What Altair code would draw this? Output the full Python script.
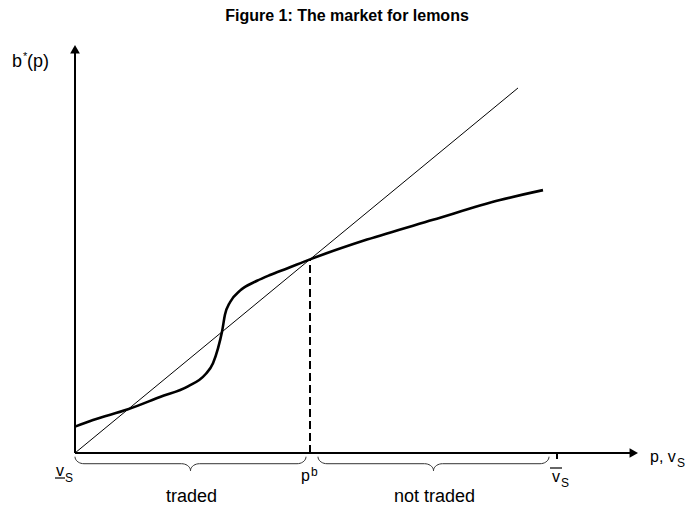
import altair as alt
import numpy as np
import pandas as pd

# ---------------- data ----------------
TITLE = "Figure 1: The market for lemons"

# b*(p) curve: price p and buyers' valuation b*(p)
price = [0.00, 0.18, 0.53, 0.85, 1.13, 1.30, 1.38, 1.43, 1.47, 1.50,
         1.55, 1.65, 1.82, 1.95, 2.12, 2.35, 2.92, 3.58, 4.25, 4.68]
buyer_value = [0.32, 0.40, 0.53, 0.68, 0.81, 0.95, 1.09, 1.27, 1.47, 1.68,
               1.83, 1.97, 2.09, 2.16, 2.24, 2.35, 2.59, 2.83, 3.07, 3.19]

# 45-degree line b = p
diag_p = [0.0, 4.43]
diag_b = [0.0, 4.43]

VS_LOW = 0.0        # lower bound of seller values
P_B = 2.35          # equilibrium price p^b
VS_HIGH = 4.82      # upper bound of seller values
X_AXIS_END = 5.63
Y_AXIS_END = 4.95

brace_start = [0.0, 2.43]
brace_end = [2.31, 4.74]
brace_text = ["traded", "not traded"]

# label texts
Y_LABEL = ["b", "*", "(p)"]
X_LABEL = ["p, v", "S"]
VS_LABEL = ["v", "S"]
PB_LABEL = ["p", "b"]

# ---------------- scales ----------------
XMIN, XMAX = -0.67, 6.10
YMAX = 445 / 82.4
YMIN = YMAX - 498 / 82.4
FONT = "Liberation Sans"

xs = alt.Scale(domain=[XMIN, XMAX], nice=False, zero=False)
ys = alt.Scale(domain=[YMIN, YMAX], nice=False, zero=False)
X = alt.X("x:Q", scale=xs, axis=None)
Y = alt.Y("y:Q", scale=ys, axis=None)


def pt(x, y, **extra):
    d = {"x": [x], "y": [y]}
    d.update({k: [v] for k, v in extra.items()})
    return pd.DataFrame(d)


def label(text, x, y, dx, dy, size, align="left"):
    return alt.Chart(pt(x, y, t=text)).mark_text(
        dx=dx, dy=dy, fontSize=size, align=align, baseline="alphabetic",
        font=FONT, color="black"
    ).encode(x=X, y=Y, text="t:N")


def hline(x, y, xo1, xo2, yo, width=1.2):
    return alt.Chart(pt(x, y, x2=x, y2=y)).mark_rule(
        color="black", strokeWidth=width, xOffset=xo1, x2Offset=xo2,
        yOffset=yo, y2Offset=yo
    ).encode(x=X, y=Y, x2="x2:Q", y2="y2:Q")


# ---------------- layers ----------------
axes_df = pd.DataFrame({
    "x": [0.0, 0.0], "y": [0.0, 0.0],
    "x2": [X_AXIS_END - 0.05, 0.0], "y2": [0.0, Y_AXIS_END - 0.06],
})
axes = alt.Chart(axes_df).mark_rule(color="black", strokeWidth=2).encode(
    x=X, y=Y, x2="x2:Q", y2="y2:Q")

arrow_x = alt.Chart(pt(X_AXIS_END, 0.0)).mark_point(
    shape="triangle-right", filled=True, size=95, color="black", opacity=1,
    xOffset=-4.2).encode(x=X, y=Y)
arrow_y = alt.Chart(pt(0.0, Y_AXIS_END)).mark_point(
    shape="triangle-up", filled=True, size=95, color="black", opacity=1,
    yOffset=4.2).encode(x=X, y=Y)

diag = alt.Chart(pd.DataFrame({"x": diag_p, "y": diag_b})).mark_line(
    color="black", strokeWidth=1).encode(x=X, y=Y)

curve = alt.Chart(pd.DataFrame({"x": price, "y": buyer_value})).mark_line(
    color="black", strokeWidth=2.6, interpolate="monotone").encode(x=X, y=Y)

dashed = alt.Chart(pt(P_B, 0.0, y2=P_B)).mark_rule(
    color="black", strokeWidth=2, strokeDash=[8, 4]).encode(x=X, y=Y, y2="y2:Q")


def brace_points(a, b, y0, y1, y2, r, n=10):
    m = (a + b) / 2
    t = np.linspace(0, np.pi / 2, n)
    xs_, ys_ = [], []
    xs_ += list(a + r * (1 - np.cos(t))); ys_ += list(y0 + (y1 - y0) * np.sin(t))
    xs_ += list(m - r + r * np.sin(t)); ys_ += list(y1 + (y2 - y1) * (1 - np.cos(t)))
    xs_ += list(m + r * (1 - np.cos(t))); ys_ += list(y2 + (y1 - y2) * np.sin(t))
    xs_ += list(b - r + r * np.sin(t)); ys_ += list(y1 + (y0 - y1) * (1 - np.cos(t)))
    return xs_, ys_


rows = []
for i, (a, b) in enumerate(zip(brace_start, brace_end)):
    bx, by = brace_points(a, b, -0.045, -0.13, -0.215, 0.09)
    for k, (xx, yy) in enumerate(zip(bx, by)):
        rows.append({"x": xx, "y": yy, "brace": i, "o": k})
braces = alt.Chart(pd.DataFrame(rows)).mark_line(
    color="#333333", strokeWidth=1).encode(
    x=X, y=Y, detail="brace:N", order="o:Q")

tick = alt.Chart(pt(VS_HIGH, 0.0, y2=0.0)).mark_rule(
    color="black", strokeWidth=2, yOffset=1, y2Offset=6).encode(
    x=X, y=Y, y2="y2:Q")

layers = [diag, curve, dashed, axes, arrow_x, arrow_y, braces, tick]

# axis labels
layers += [
    label(Y_LABEL[0], 0.0, Y_AXIS_END, -53, 22, 18, align="right"),
    label(Y_LABEL[1], 0.0, Y_AXIS_END, -52, 15, 11),
    label(Y_LABEL[2], 0.0, Y_AXIS_END, -48, 22, 18),
    label(X_LABEL[0], X_AXIS_END, 0.0, 12, 9, 16),
    label(X_LABEL[1], X_AXIS_END, 0.0, 39, 14, 12),
    # lower bound v_S (underlined)
    label(VS_LABEL[0], VS_LOW, 0.0, -19, 23, 16),
    label(VS_LABEL[1], VS_LOW, 0.0, -10, 29, 12),
    hline(VS_LOW, 0.0, -20, -10, 25),
    # p^b
    label(PB_LABEL[0], P_B, 0.0, -9, 28, 16),
    label(PB_LABEL[1], P_B, 0.0, 1, 23, 12),
    # upper bound v_S (overlined)
    label(VS_LABEL[0], VS_HIGH, 0.0, -5, 29, 16),
    label(VS_LABEL[1], VS_HIGH, 0.0, 4, 34, 12),
    hline(VS_HIGH, 0.0, -7, 5, 15),
]
for a, b, txt in zip(brace_start, brace_end, brace_text):
    layers.append(label(txt, (a + b) / 2, 0.0, 1, 49, 18, align="center"))

title = alt.Chart(pd.DataFrame({"t": [TITLE]})).mark_text(
    fontSize=16, fontWeight="bold", font=FONT, align="center",
    baseline="alphabetic", color="black").encode(
    x=alt.value(339), y=alt.value(13), text="t:N")
layers.append(title)

chart = alt.layer(*layers).properties(
    width=677, height=498,
    autosize=alt.AutoSizeParams(type="none"),
    padding=0,
).configure_view(stroke=None)

chart.save("out.html", embed_options={"renderer": "svg", "actions": False})
